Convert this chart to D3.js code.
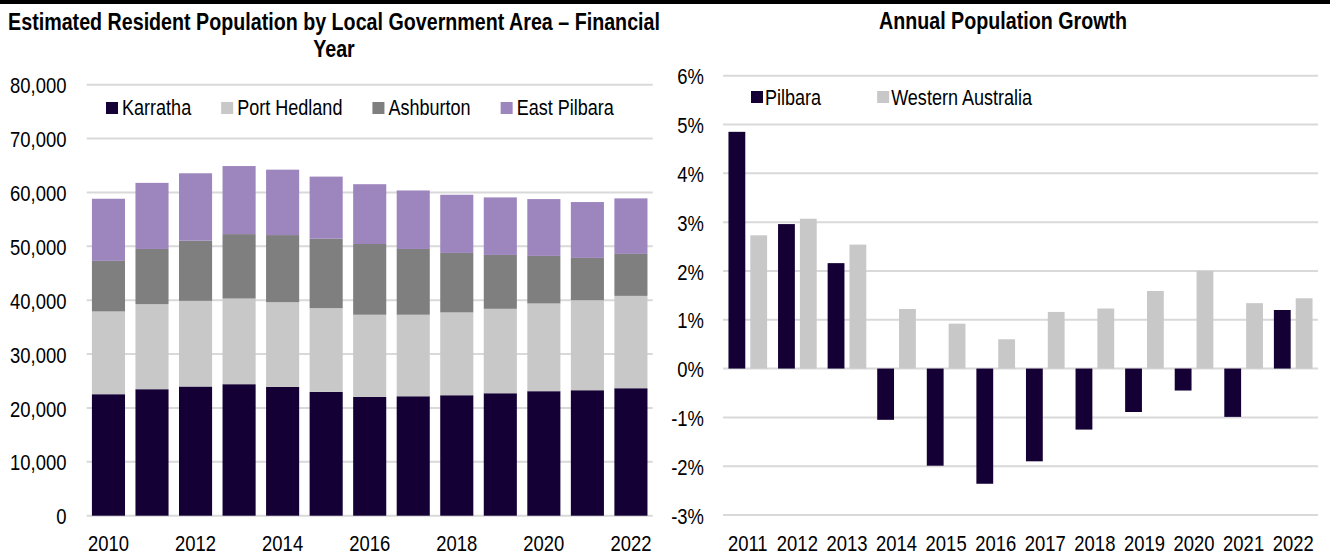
<!DOCTYPE html>
<html>
<head>
<meta charset="utf-8">
<script src="https://cdn.jsdelivr.net/npm/d3@7"></script>
<style>
  html, body { margin: 0; padding: 0; background: #fff; }
  svg { display: block; }
  text { font-family: "Liberation Sans", Arial, sans-serif; fill: #000; }
</style>
</head>
<body>
<svg id="chart" width="1330" height="557"></svg>
<script>
// ---- Estimated resident population by LGA (financial year) ----
const years = [2010, 2011, 2012, 2013, 2014, 2015, 2016, 2017, 2018, 2019, 2020, 2021, 2022];
const karratha    = [22550, 23480, 23980, 24410, 23910, 22980, 22050, 22170, 22360, 22730, 23110, 23290, 23660];
const portHedland = [15360, 15780, 15900, 15900, 15720, 15550, 15250, 15130, 15370, 15670, 16280, 16710, 17140];
const ashburton   = [ 9390, 10250, 11160, 11960, 12460, 12880, 13130, 12210, 11040, 10000,  8830,  7850,  7790];
const eastPilbara = [11530, 12270, 12520, 12630, 12140, 11530, 11100, 10860, 10800, 10680, 10550, 10370, 10310];
const lgaNames = ["Karratha", "Port Hedland", "Ashburton", "East Pilbara"];
const popTicks = [0, 10000, 20000, 30000, 40000, 50000, 60000, 70000, 80000];
const popYearLabels = [2010, 2012, 2014, 2016, 2018, 2020, 2022];

// ---- Annual population growth (%) ----
const growthYears = [2011, 2012, 2013, 2014, 2015, 2016, 2017, 2018, 2019, 2020, 2021, 2022];
const pilbaraGrowth = [4.85, 2.96, 2.16, -1.05, -1.99, -2.36, -1.90, -1.25, -0.89, -0.45, -0.99, 1.20];
const waGrowth      = [2.73, 3.07, 2.54, 1.22, 0.92, 0.60, 1.16, 1.23, 1.59, 2.00, 1.34, 1.44];
const growthNames = ["Pilbara", "Western Australia"];
const growthTicks = [-3, -2, -1, 0, 1, 2, 3, 4, 5, 6];

// ---- styling ----
const DARK = "#150036", LIGHT = "#c8c8c8", MID = "#7f7f7f", LAVENDER = "#9d86be";
const GRID = "#d9d9d9";
const NARROW = 0.82;          // horizontal squeeze to give a condensed face
const AXIS_FS = 22.5, LEGEND_FS = 22, TITLE_FS = 24;

const svg = d3.select("#chart");

// Condense a text selection: move its x/y into a transform and squeeze horizontally
function squeeze(sel) {
  sel.each(function () {
    const t = d3.select(this);
    const x = +t.attr("x") || 0, y = +t.attr("y") || 0;
    t.attr("x", 0).attr("y", 0)
     .attr("transform", `translate(${x},${y}) scale(${NARROW},1)`);
  });
  return sel;
}

function addText(g, x, y, str, opts = {}) {
  const t = g.append("text")
    .attr("x", x).attr("y", y)
    .attr("text-anchor", opts.anchor || "start")
    .style("font-size", (opts.size || AXIS_FS) + "px")
    .style("font-weight", opts.weight || "normal")
    .text(str);
  squeeze(t);
  return t;
}

// top rule
svg.append("rect").attr("x", 0).attr("y", 0).attr("width", 1330).attr("height", 4).attr("fill", "#000");

// ================= Left chart: stacked population =================
{
  const g = svg.append("g");
  const x = d3.scaleBand().domain(years).range([86.7, 652.7]).paddingInner(0.24).paddingOuter(0.12);
  const y = d3.scaleLinear().domain([0, 80000]).range([515.7, 84.7]);

  addText(g, 334, 30, "Estimated Resident Population by Local Government Area – Financial", { anchor: "middle", size: TITLE_FS, weight: "bold" });
  addText(g, 334, 56.5, "Year", { anchor: "middle", size: TITLE_FS, weight: "bold" });

  // gridlines
  g.append("g").selectAll("line").data(popTicks).join("line")
    .attr("x1", 86.7).attr("x2", 652.7)
    .attr("y1", d => y(d)).attr("y2", d => y(d))
    .attr("stroke", GRID).attr("stroke-width", 2);

  // y axis labels
  const yAxis = g.append("g").attr("transform", "translate(86.7,0)")
    .call(d3.axisLeft(y).tickValues(popTicks).tickSize(0).tickPadding(20.2).tickFormat(d3.format(",")));
  yAxis.select(".domain").remove();
  yAxis.selectAll("text").style("font-size", AXIS_FS + "px").style("font-family", null).attr("dy", "0.36em");
  squeeze(yAxis.selectAll("text"));

  // stacked bars
  const rows = years.map((yr, i) => ({
    year: yr,
    "Karratha": karratha[i], "Port Hedland": portHedland[i],
    "Ashburton": ashburton[i], "East Pilbara": eastPilbara[i]
  }));
  const stack = d3.stack().keys(lgaNames)(rows);
  const color = d3.scaleOrdinal().domain(lgaNames).range([DARK, LIGHT, MID, LAVENDER]);

  g.append("g").selectAll("g").data(stack).join("g")
    .attr("fill", d => color(d.key))
    .selectAll("rect").data(d => d).join("rect")
    .attr("x", d => x(d.data.year))
    .attr("width", x.bandwidth())
    .attr("y", d => y(d[1]))
    .attr("height", d => y(d[0]) - y(d[1]));

  // x axis labels
  const xAxis = g.append("g").attr("transform", "translate(0,515.7)")
    .call(d3.axisBottom(x).tickValues(popYearLabels).tickSize(0).tickPadding(0));
  xAxis.select(".domain").remove();
  xAxis.selectAll("text").style("font-size", AXIS_FS + "px").style("font-family", null)
    .attr("y", 35).attr("dy", 0);
  squeeze(xAxis.selectAll("text"));

  // legend
  let lx = 106;
  lgaNames.forEach(name => {
    g.append("rect").attr("x", lx).attr("y", 102).attr("width", 12).attr("height", 12).attr("fill", color(name));
    const t = addText(g, lx + 16, 115, name, { size: LEGEND_FS });
    lx += 16 + t.node().getComputedTextLength() * NARROW + 30;
  });
}

// ================= Right chart: annual growth =================
{
  const g = svg.append("g");
  const x0 = d3.scaleBand().domain(growthYears).range([723, 1318]).padding(0);
  const x1 = d3.scaleBand().domain(growthNames).range([0, x0.bandwidth()]).paddingInner(0.23).paddingOuter(0.25);
  const y = d3.scaleLinear().domain([-3, 6]).range([515, 75.7]);
  const color = d3.scaleOrdinal().domain(growthNames).range([DARK, LIGHT]);

  addText(g, 1003, 29, "Annual Population Growth", { anchor: "middle", size: TITLE_FS, weight: "bold" });

  g.append("g").selectAll("line").data(growthTicks).join("line")
    .attr("x1", 723).attr("x2", 1318)
    .attr("y1", d => y(d)).attr("y2", d => y(d))
    .attr("stroke", GRID).attr("stroke-width", 2);

  const yAxis = g.append("g").attr("transform", "translate(723,0)")
    .call(d3.axisLeft(y).tickValues(growthTicks).tickSize(0).tickPadding(19).tickFormat(d => d + "%"));
  yAxis.select(".domain").remove();
  yAxis.selectAll("text").style("font-size", AXIS_FS + "px").style("font-family", null).attr("dy", "0.36em");
  squeeze(yAxis.selectAll("text"));

  const rows = growthYears.map((yr, i) => ({ year: yr, values: [
    { key: "Pilbara", v: pilbaraGrowth[i] },
    { key: "Western Australia", v: waGrowth[i] }
  ]}));

  g.append("g").selectAll("g").data(rows).join("g")
    .attr("transform", d => `translate(${x0(d.year)},0)`)
    .selectAll("rect").data(d => d.values).join("rect")
    .attr("x", d => x1(d.key))
    .attr("width", x1.bandwidth())
    .attr("y", d => y(Math.max(0, d.v)))
    .attr("height", d => Math.abs(y(d.v) - y(0)))
    .attr("fill", d => color(d.key));

  const xAxis = g.append("g").attr("transform", "translate(0,515)")
    .call(d3.axisBottom(x0).tickSize(0).tickPadding(0));
  xAxis.select(".domain").remove();
  xAxis.selectAll("text").style("font-size", AXIS_FS + "px").style("font-family", null)
    .attr("y", 35.7).attr("dy", 0);
  squeeze(xAxis.selectAll("text"));

  let lx = 751;
  growthNames.forEach(name => {
    g.append("rect").attr("x", lx).attr("y", 91).attr("width", 12).attr("height", 12).attr("fill", color(name));
    const t = addText(g, lx + 14, 105, name, { size: LEGEND_FS });
    lx += 14 + t.node().getComputedTextLength() * NARROW + 56;
  });
}
</script>
</body>
</html>
